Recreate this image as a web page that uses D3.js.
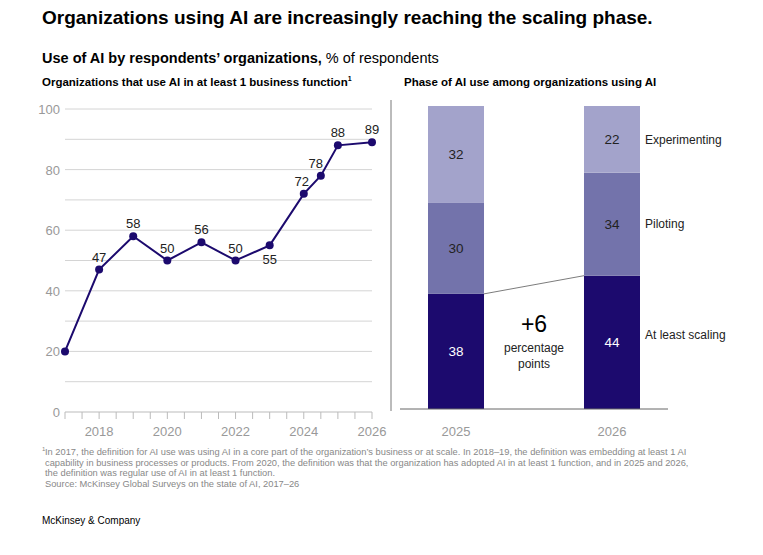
<!DOCTYPE html>
<html>
<head>
<meta charset="utf-8">
<script src="https://cdn.jsdelivr.net/npm/d3@7"></script>
<style>
  body { margin: 0; background: #fff; font-family: "Liberation Sans", Arial, sans-serif; }
  text { font-family: "Liberation Sans", Arial, sans-serif; }
</style>
</head>
<body>
<svg id="chart" width="763" height="555"></svg>
<script>
// line chart data
var lineYears = [2017, 2018, 2019, 2020, 2021, 2022, 2023, 2024, 2024.5, 2025, 2026];
var lineValues = [20, 47, 58, 50, 56, 50, 55, 72, 78, 88, 89];
var yTicks = [0, 20, 40, 60, 80, 100];
var xTicks = [2018, 2020, 2022, 2024, 2026];

// stacked bar data
var barYears = ["2025", "2026"];
var phases = ["At least scaling", "Piloting", "Experimenting"];
var scalingVals = [38, 44];
var pilotingVals = [30, 34];
var experimentingVals = [32, 22];
var phaseColors = ["#1c0a6e", "#7373ab", "#a3a3cb"];

var svg = d3.select("#chart");

svg.append("text").attr("x", 42).attr("y", 24)
  .attr("font-size", 19).attr("font-weight", "bold").attr("fill", "#000")
  .text("Organizations using AI are increasingly reaching the scaling phase.");

var sub = svg.append("text").attr("x", 42).attr("y", 63).attr("font-size", 14.5).attr("fill", "#000");
sub.append("tspan").attr("font-weight", "bold").text("Use of AI by respondents’ organizations,");
sub.append("tspan").text(" % of respondents");

var lt = svg.append("text").attr("x", 42).attr("y", 86).attr("font-size", 11.5).attr("font-weight", "bold");
lt.append("tspan").text("Organizations that use AI in at least 1 business function");
lt.append("tspan").attr("font-size", 7).attr("dy", -5).text("1");

svg.append("text").attr("x", 404).attr("y", 86).attr("font-size", 11.5).attr("font-weight", "bold")
  .text("Phase of AI use among organizations using AI");

// ---- left line chart
var x = d3.scaleLinear().domain([2017, 2026]).range([65, 372]);
var y = d3.scaleLinear().domain([0, 100]).range([412, 109]);

var g = svg.append("g");
g.selectAll("line.grid").data(d3.range(10, 101, 10)).enter().append("line")
  .attr("x1", 65).attr("x2", 372)
  .attr("y1", function (d) { return y(d); }).attr("y2", function (d) { return y(d); })
  .attr("stroke", "#d4d4d4").attr("stroke-width", 1);

g.selectAll("text.ytick").data(yTicks).enter().append("text")
  .attr("x", 60).attr("y", function (d) { return y(d) + 5; })
  .attr("text-anchor", "end").attr("font-size", 13).attr("fill", "#999")
  .text(function (d) { return d; });

g.append("line").attr("x1", 65).attr("x2", 372).attr("y1", 412).attr("y2", 412)
  .attr("stroke", "#bbb");
g.selectAll("line.xt").data(d3.range(2017, 2026.01, 0.5)).enter().append("line")
  .attr("x1", function (d) { return x(d); }).attr("x2", function (d) { return x(d); })
  .attr("y1", 412).attr("y2", 419).attr("stroke", "#bbb");

g.selectAll("text.xtick").data(xTicks).enter().append("text")
  .attr("x", function (d) { return x(d); }).attr("y", 436)
  .attr("text-anchor", "middle").attr("font-size", 13).attr("fill", "#999")
  .text(function (d) { return d; });

var pts = lineYears.map(function (d, i) { return [d, lineValues[i]]; });
g.append("path").datum(pts)
  .attr("d", d3.line().x(function (d) { return x(d[0]); }).y(function (d) { return y(d[1]); }))
  .attr("fill", "none").attr("stroke", "#1c0a6e").attr("stroke-width", 2);
g.selectAll("circle").data(pts).enter().append("circle")
  .attr("cx", function (d) { return x(d[0]); }).attr("cy", function (d) { return y(d[1]); })
  .attr("r", 4).attr("fill", "#1c0a6e");

g.selectAll("text.lbl").data(pts.slice(1)).enter().append("text")
  .attr("x", function (d) {
    if (d[0] === 2024) return x(d[0]) - 2;
    if (d[0] === 2024.5) return x(d[0]) - 5;
    return x(d[0]);
  })
  .attr("y", function (d) { return d[0] === 2023 ? y(d[1]) + 19 : y(d[1]) - 8; })
  .attr("text-anchor", "middle").attr("font-size", 13).attr("fill", "#222")
  .text(function (d) { return d[1]; });

// divider
svg.append("line").attr("x1", 391).attr("x2", 391).attr("y1", 100).attr("y2", 411)
  .attr("stroke", "#555").attr("stroke-width", 0.8);

// ---- right stacked bars
var xb = d3.scaleBand().domain(barYears).range([350, 718]).paddingInner(0.641).paddingOuter(0.5);
var yb = d3.scaleLinear().domain([0, 100]).range([409, 106]);
var rows = barYears.map(function (yr, i) {
  return { year: yr, "At least scaling": scalingVals[i], "Piloting": pilotingVals[i], "Experimenting": experimentingVals[i] };
});
var stack = d3.stack().keys(phases)(rows);

var bg = svg.append("g");
stack.forEach(function (layer, li) {
  bg.selectAll(null).data(layer).enter().append("rect")
    .attr("x", function (d) { return xb(d.data.year); })
    .attr("width", xb.bandwidth())
    .attr("y", function (d) { return yb(d[1]); })
    .attr("height", function (d) { return yb(d[0]) - yb(d[1]); })
    .attr("fill", phaseColors[li]);
  bg.selectAll(null).data(layer).enter().append("text")
    .attr("x", function (d) { return xb(d.data.year) + xb.bandwidth() / 2; })
    .attr("y", function (d) { return (yb(d[0]) + yb(d[1])) / 2 + 5; })
    .attr("text-anchor", "middle").attr("font-size", 13.5)
    .attr("fill", li === 0 ? "#fff" : "#222")
    .text(function (d) { return d[1] - d[0]; });
});

bg.append("line").attr("x1", 400).attr("x2", 668).attr("y1", 409).attr("y2", 409).attr("stroke", "#666");

bg.selectAll("text.bx").data(barYears).enter().append("text")
  .attr("x", function (d) { return xb(d) + xb.bandwidth() / 2; }).attr("y", 436)
  .attr("text-anchor", "middle").attr("font-size", 13).attr("fill", "#999")
  .text(function (d) { return d; });

// connector
bg.append("line")
  .attr("x1", xb("2025") + xb.bandwidth()).attr("y1", yb(scalingVals[0]))
  .attr("x2", xb("2026")).attr("y2", yb(scalingVals[1]))
  .attr("stroke", "#444").attr("stroke-width", 0.7);

var midX = (xb("2025") + xb.bandwidth() + xb("2026")) / 2;
bg.append("text").attr("x", midX).attr("y", 332).attr("text-anchor", "middle")
  .attr("font-size", 23).attr("font-family", "DejaVu Serif, serif").attr("fill", "#000").text("+6");
bg.append("text").attr("x", midX).attr("y", 352).attr("text-anchor", "middle")
  .attr("font-size", 12).attr("fill", "#222").text("percentage");
bg.append("text").attr("x", midX).attr("y", 368).attr("text-anchor", "middle")
  .attr("font-size", 12).attr("fill", "#222").text("points");

// phase labels next to 2026 bar
var last = stack.map(function (layer) { return layer[1]; });
bg.selectAll("text.ph").data(last).enter().append("text")
  .attr("x", 645)
  .attr("y", function (d, i) { return i === 2 ? yb(d[1]) + 38 : (yb(d[0]) + yb(d[1])) / 2 + (i === 0 ? -3 : 4); })
  .attr("font-size", 12).attr("fill", "#222")
  .text(function (d, i) { return phases[i]; });

// footnotes
var notes = [
  "In 2017, the definition for AI use was using AI in a core part of the organization’s business or at scale. In 2018–19, the definition was embedding at least 1 AI",
  "capability in business processes or products. From 2020, the definition was that the organization has adopted AI in at least 1 function, and in 2025 and 2026,",
  "the definition was regular use of AI in at least 1 function.",
  "Source: McKinsey Global Surveys on the state of AI, 2017–26"
];
svg.append("text").attr("x", 42).attr("y", 451).attr("font-size", 6).attr("fill", "#888").text("1");
svg.selectAll("text.note").data(notes).enter().append("text")
  .attr("x", 45).attr("y", function (d, i) { return 455 + i * 10.5; })
  .attr("font-size", 9.3).attr("fill", "#888")
  .text(function (d) { return d; });

svg.append("text").attr("x", 42).attr("y", 524).attr("font-size", 10).attr("fill", "#000")
  .text("McKinsey & Company");
</script>
</body>
</html>
